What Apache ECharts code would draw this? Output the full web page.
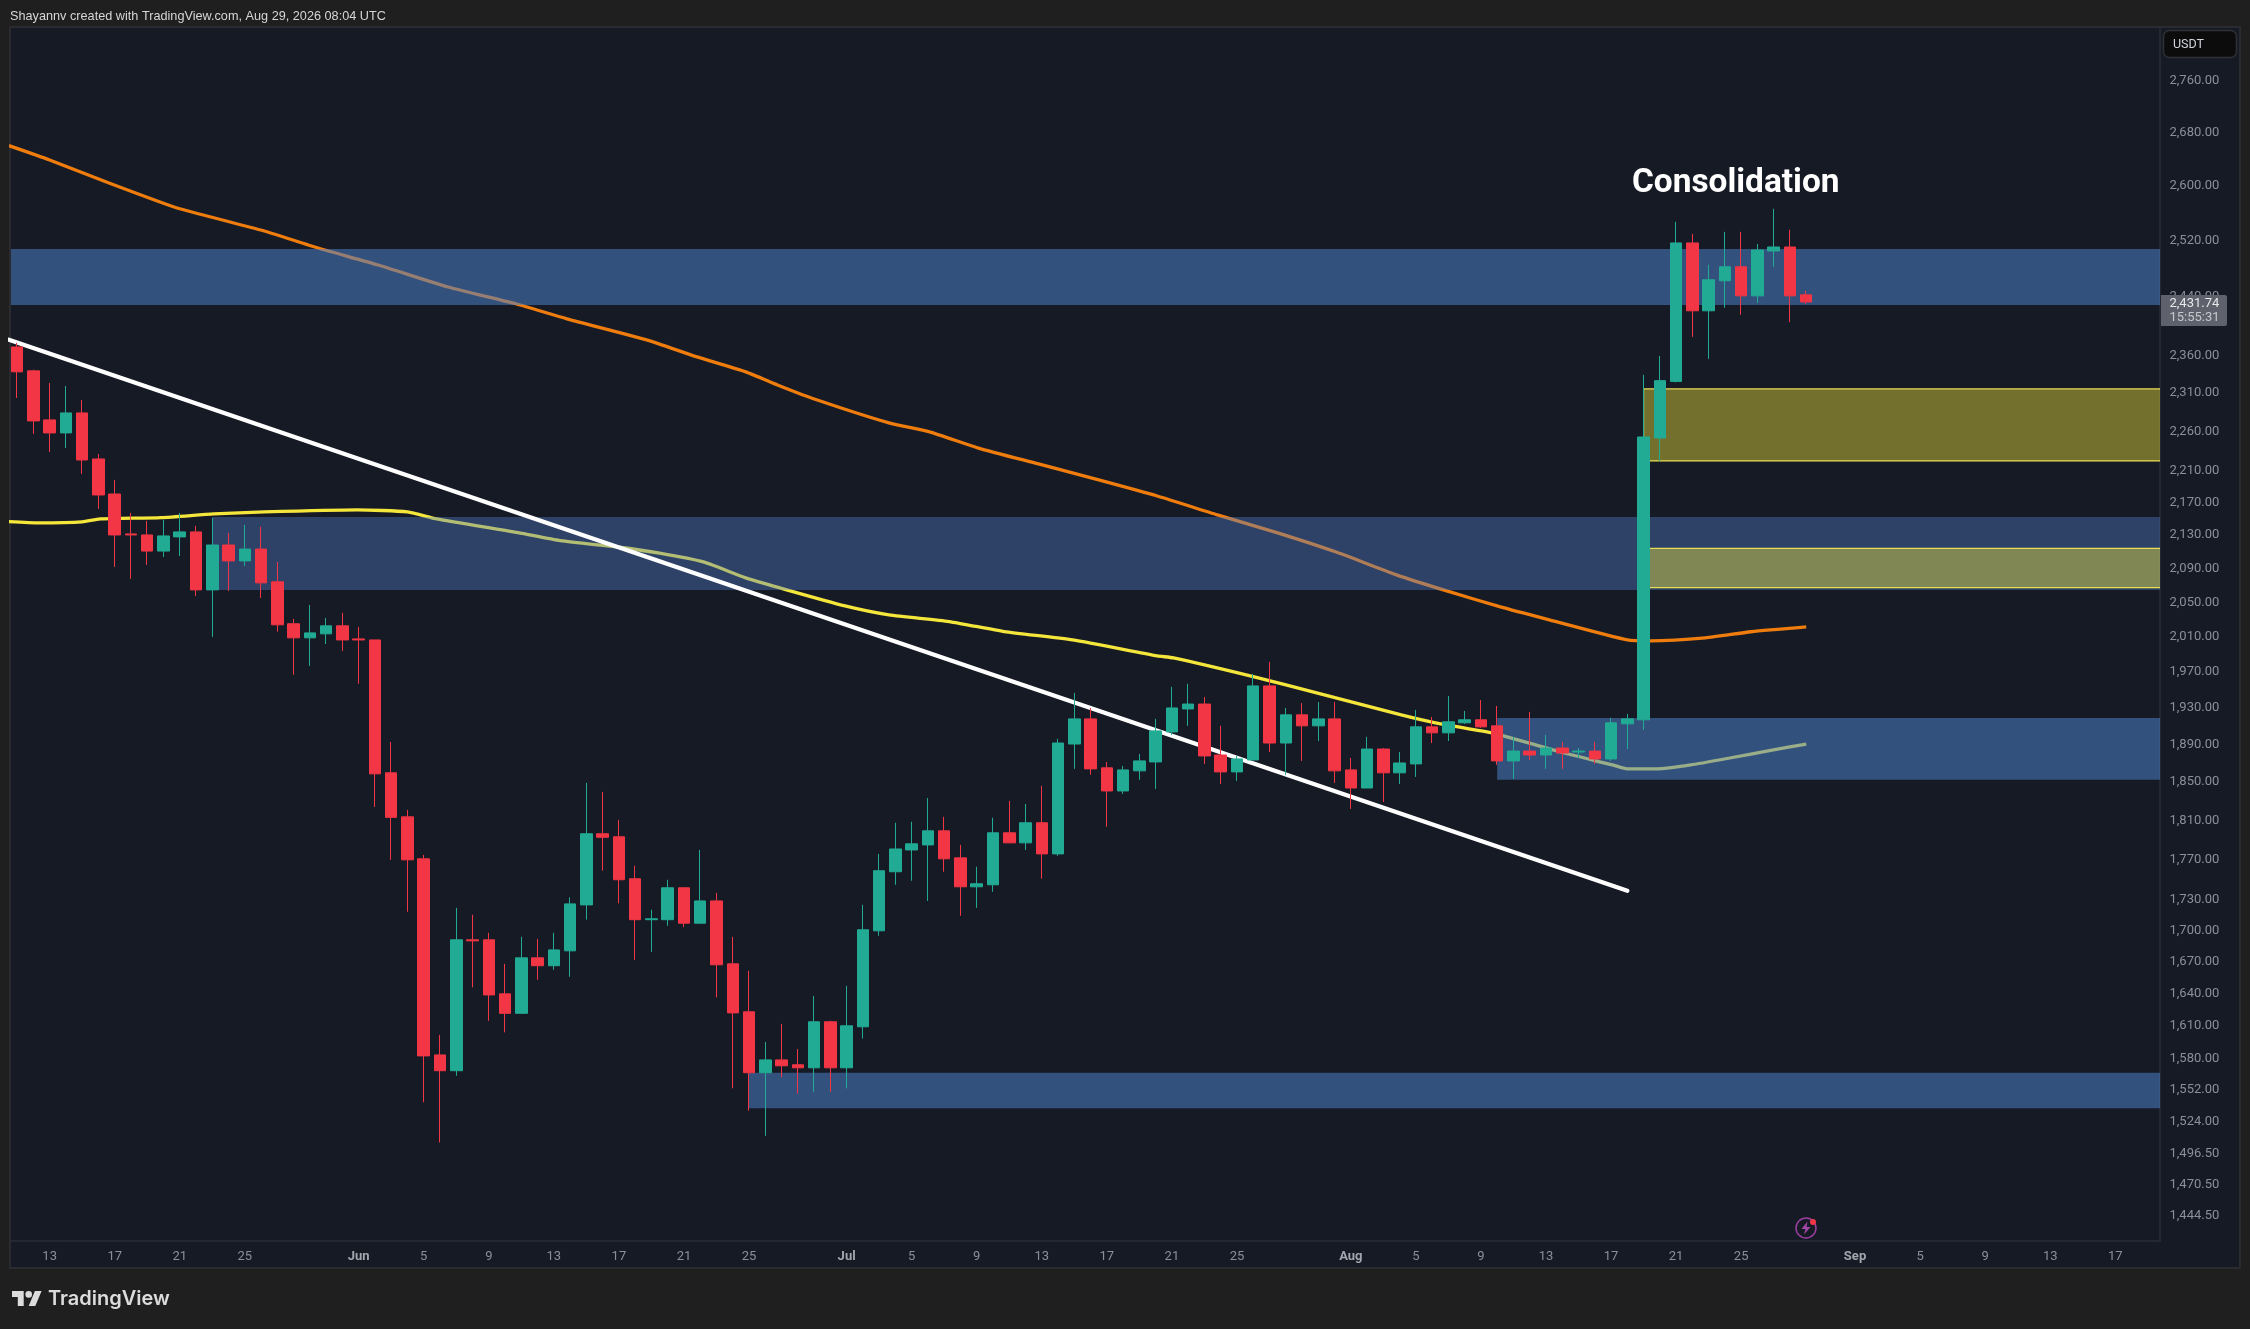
<!DOCTYPE html>
<html><head><meta charset="utf-8">
<style>html,body{margin:0;padding:0;background:#1f1f1f}#c{width:2250px;height:1329px}</style>
<script src="https://cdn.jsdelivr.net/npm/echarts@6/dist/echarts.min.js"></script>
</head><body><div id="c"></div>
<script>
// Day index 0 = May 11
const opens=[2370.1,2338,2273.5,2256.7,2282.6,2223.4,2179.4,2130.3,2129.1,2109.6,2126.7,2132.8,2063.4,2116.9,2097.8,2112,2072.9,2023.9,2007.7,2012.3,2021.5,2006.5,2005.3,1858.9,1812.8,1769.9,1582.6,1568.4,1690,1690,1638.7,1620.6,1672.7,1665.2,1679.4,1724,1795.4,1792.3,1749.9,1709.5,1709.5,1740.9,1706.1,1727.9,1667,1622,1566.6,1578.1,1573.7,1571,1612.8,1571,1608.2,1698.7,1756.9,1778.9,1784,1798.4,1770.9,1741.9,1743.9,1796.4,1786.1,1806.7,1774.9,1889.7,1917,1864.2,1839.8,1861,1870.5,1902.8,1927.9,1933.3,1877.9,1859.9,1872.6,1953.4,1890.8,1921.4,1909.4,1917,1862,1842.9,1884.3,1858.9,1868.4,1908.3,1901.8,1912.7,1916,1909.4,1871.6,1882.1,1877.9,1885.4,1881.1,1882.1,1873.7,1911.6,1916,2250.2,2324,2515,2419.5,2461.3,2481,2440.2,2503.5,2509.2,2441.6];
const closes=[2336.7,2272.2,2256.7,2282.6,2222.1,2178.2,2129.1,2129.1,2109.6,2127.9,2132.8,2063.4,2116.9,2097.8,2112,2071.7,2022.7,2007.7,2013.4,2021.5,2005.3,2005.3,1857.8,1812.3,1768.9,1581.7,1568.4,1690,1689,1637.7,1620.6,1672.7,1665.2,1680.3,1725,1795.4,1791.8,1748.9,1709.5,1710.4,1740.9,1706.1,1727.9,1666.1,1621,1566.6,1578.1,1572.8,1571,1612.8,1571,1609.1,1699.7,1757.9,1779.9,1785.1,1798.4,1769.9,1741.9,1744.9,1796.4,1786.1,1806.7,1774.9,1890.8,1917,1863.1,1839.8,1862,1871.6,1903.9,1929,1933.3,1876.9,1859.9,1873.7,1953.4,1890.8,1921.4,1909.4,1917,1861,1842.9,1884.3,1858.9,1869.4,1908.3,1901.8,1913.8,1916,1908.3,1871.6,1882.1,1877.9,1885.4,1880,1882.1,1873.7,1912.7,1917,2251.5,2325,2515,2419.5,2462.7,2481,2440.2,2504.9,2509.2,2440.2,2431.74];
const highs=[2375.6,2339.4,2322,2318,2299.4,2229.7,2197,2156,2146.2,2147.5,2156,2140.1,2149.9,2131.6,2141.4,2139,2096.6,2029.6,2045.7,2030.7,2036.5,2020.3,2005.3,1891.9,1820,1773.9,1600.8,1721.1,1714.3,1696.8,1667,1692.9,1690.9,1696.8,1731.4,1848.3,1838.8,1809.7,1762.9,1719.2,1748.9,1740.9,1778.9,1735.9,1692.9,1660.4,1594.4,1610.9,1587.9,1636.8,1613.7,1646.2,1724,1774.9,1806.7,1807.7,1832.4,1812.8,1784,1761.9,1811.8,1829.3,1826.2,1845.1,1895.2,1945.6,1929,1870.5,1866.3,1879,1917,1952.3,1955.8,1941.1,1909.4,1876.9,1966.9,1980.3,1929,1934.4,1935.5,1935.5,1874.7,1897.4,1885.4,1881.1,1926.8,1919.2,1942.2,1925.7,1937.7,1931.2,1897.4,1924.6,1899.6,1891.9,1885.4,1891.9,1918.1,1922.4,2332.7,2358,2545.5,2528,2483.8,2531,2531,2513.6,2564.4,2533.9,2447.3];
const lows=[2302.1,2255.4,2232.2,2237.3,2204.5,2160.9,2090.6,2076.4,2093,2102.5,2103.7,2056.2,2008.8,2062.2,2091.8,2053.9,2014.7,1965.8,1975.8,2000.7,1992.7,1955.8,1823.1,1768.9,1717.2,1540.4,1505.5,1563.9,1644.8,1613.7,1603.1,1620.6,1651.9,1661.4,1654.7,1709.5,1757.9,1725.5,1670.8,1678.4,1703.6,1702.2,1706.1,1635.4,1552.7,1533,1511.2,1562.6,1547.9,1549.7,1549.7,1552.7,1597.5,1693.9,1743.9,1747.9,1727.9,1756.9,1713.3,1721.1,1736.9,1786.1,1778.9,1749.9,1772.9,1863.1,1856.8,1802.5,1836.7,1851.5,1841.9,1899.6,1909.4,1868.4,1847.2,1850.4,1872.6,1881.1,1856.8,1871.6,1893,1848.2,1821,1842.9,1828.2,1847.2,1854.6,1890.8,1893,1911.6,1907.2,1867.3,1852.5,1872.6,1863.1,1863.1,1874.7,1868.4,1871.6,1884.3,1905,2220.9,2322.7,2383.8,2354,2423.6,2414,2430.5,2481,2404,2429.1];

const orangeDays=[-0.5,2,5.65,9.65,11.2,15.2,18.5,22.2,26.5,30.7,33.8,38.7,41.8,44.8,46.9,49.2,53.6,56.1,59.1,62.8,66.5,70.1,73.8,77.5,81.1,84.8,87.9,91.2,94.2,99,100.4,103.8,106.6,110];
const orangeVals=[2658.5,2636.9,2602.5,2567.1,2556.9,2532.2,2507.8,2483.6,2452.6,2428.9,2408.5,2379.7,2356.7,2336.7,2318,2299.4,2269.6,2258,2237.3,2217.1,2197,2176.9,2153.6,2131.6,2108.4,2081.2,2062.2,2043.4,2028.4,2005.3,2004.2,2007.7,2014.7,2020.3];
const yellowDays=[-0.5,1.35,4,5.1,8.85,12.1,15.2,20.9,24,25.8,30.8,33.4,36.9,39.5,42.2,44.8,46.9,50.9,53.6,57.3,60.7,64.9,70.1,71.1,76,79.9,85.1,87.2,90.6,91.6,94.9,98.1,99,100.8,102.9,105.3,107.9,110];
const yellowVals=[2145.4,2143.8,2145,2148.7,2150.3,2154.8,2157.2,2159.7,2157.2,2148.7,2132,2122.2,2114.5,2107.2,2096.6,2077.6,2065.7,2044.6,2034.2,2026.5,2014.9,2005.3,1987.1,1984.9,1963.8,1945.6,1921.4,1912.7,1902,1897.4,1881.1,1867.3,1863.1,1863.1,1867.3,1874.7,1883.2,1889.7];
const trendDays=[-0.5,99];
const trendVals=[2380,1737.9];

const blueStart=[-0.5,12,91,45];
const blueHigh=[2506.3,2151.1,1918.1,1566.6];
const blueLow=[2427.7,2063.4,1851.5,1535.1];
const blueDim=[false,true,false,false];
const goldStart=[100,100];
const goldHigh=[2314,2112.9];
const goldLow=[2220.9,2066];

const priceTicks=[2760,2680,2600,2520,2440,2360,2310,2260,2210,2170,2130,2090,2050,2010,1970,1930,1890,1850,1810,1770,1730,1700,1670,1640,1610,1580,1552,1524,1496.5,1470.5,1444.5];
const dateTickDays=[2,6,10,14,21,25,29,33,37,41,45,51,55,59,63,67,71,75,82,86,90,94,98,102,106,113,117,121,125,129];
const dateTickLabels=['13','17','21','25','Jun','5','9','13','17','21','25','Jul','5','9','13','17','21','25','Aug','5','9','13','17','21','25','Sep','5','9','13','17'];

const X_MIN=-0.375, X_MAX=131.75, Y_MIN=1423.2, Y_MAX=2843.1;
const FONT='Roboto';
const candles=opens.map((o,i)=>[i,o,closes[i],lows[i],highs[i]]);
const zip=(a,b)=>a.map((v,i)=>[v,b[i]]);

function rectItem(params,api,style,overrun){
  const a=api.coord([api.value(0),api.value(1)]);
  const b=api.coord([X_MAX+overrun,api.value(2)]);
  return {type:'rect',shape:{x:a[0],y:a[1],width:b[0]-a[0],height:b[1]-a[1]},style:style,
    clipPath:{type:'rect',shape:{x:params.coordSys.x,y:params.coordSys.y,width:params.coordSys.width,height:params.coordSys.height}}};
}
const chart=echarts.init(document.getElementById('c'),null,{renderer:'canvas'});
chart.setOption({
  animation:false,
  backgroundColor:'#1f1f1f',
  textStyle:{fontFamily:FONT},
  grid:{left:11,right:90,top:28,bottom:88,show:false},
  xAxis:{type:'value',min:X_MIN,max:X_MAX,splitLine:{show:false},
    axisLine:{show:true,lineStyle:{color:'#2a2e39',width:1.5}},axisTick:{show:false},
    axisLabel:{customValues:dateTickDays,margin:9,fontSize:13,color:'#8b8f98',fontFamily:FONT,
      formatter:v=>{const s=dateTickLabels[dateTickDays.indexOf(v)];return /[A-Z]/.test(s)?'{m|'+s+'}':s;},
      rich:{m:{fontSize:13,fontWeight:'bold',color:'#a3a6ad',fontFamily:FONT}}}},
  yAxis:{type:'log',logBase:10,position:'right',min:Y_MIN,max:Y_MAX,splitLine:{show:false},
    axisLine:{show:true,onZero:false,lineStyle:{color:'#2a2e39',width:1.5}},axisTick:{show:false},
    axisLabel:{show:false}},
  graphic:[
    {type:'rect',z:-10,silent:true,shape:{x:10,y:27,width:2230,height:1241},style:{fill:'#161a25',stroke:'#2a2b30',lineWidth:2}},
    {type:'text',z:50,style:{x:10,y:16,text:'Shayannv created with TradingView.com, Aug 29, 2026 08:04 UTC',fill:'#d6d6d6',font:'12.7px "Liberation Sans"',textVerticalAlign:'middle'}},
    {type:'rect',z:50,shape:{x:2163.5,y:30.5,width:73,height:27,r:6},style:{fill:'#0c0c0d',stroke:'#2e3036',lineWidth:1.5}},
    {type:'text',z:51,style:{x:2173,y:45,text:'USDT',fill:'#d1d4dc',font:'12.5px Roboto',textVerticalAlign:'middle'}},
    {type:'rect',z:60,shape:{x:2161,y:295,width:66,height:31,r:[0,2,2,0]},style:{fill:'#5f626d'}},
    {type:'text',z:61,style:{x:2169.5,y:304,text:'2,431.74',fill:'#e8e8ea',font:'13px Roboto',textVerticalAlign:'middle'}},
    {type:'text',z:61,style:{x:2169.5,y:317.5,text:'15:55:31',fill:'#c7c8cc',font:'13px Roboto',textVerticalAlign:'middle'}},
    {type:'text',z:61,style:{x:1632,y:184,text:'Consolidation',fill:'#ffffff',font:'bold 33.4px Roboto',textVerticalAlign:'middle'}},
    {type:'circle',z:61,shape:{cx:1806,cy:1228,r:10},style:{fill:'none',stroke:'#9a3f9f',lineWidth:1.5}},
    {type:'polygon',z:61,shape:{points:[[1807.5,1221.5],[1801.5,1229],[1805.5,1229],[1804,1234.5],[1810.5,1227],[1806.5,1227]]},style:{fill:'#a347a8'}},
    {type:'circle',z:62,shape:{cx:1813,cy:1222,r:3},style:{fill:'#f23645'}},
    {type:'polygon',z:61,shape:{points:[[23.7,1306],[17.8,1306],[17.8,1296.9],[12,1296.9],[12,1291],[23.7,1291]]},style:{fill:'#dcdcdc'}},
    {type:'polygon',z:61,shape:{points:[[35.3,1306],[28.7,1306],[34.9,1291],[41.6,1291]]},style:{fill:'#dcdcdc'}},
    {type:'circle',z:61,shape:{cx:28.7,cy:1294.4,r:3.3},style:{fill:'#dcdcdc'}},
    {type:'text',z:61,style:{x:48,y:1299,text:'TradingView',fill:'#dcdcdc',font:'600 20px Inter',textVerticalAlign:'middle'}}
  ],
  series:[
    {type:'line',name:'MA long',z:2,data:zip(orangeDays,orangeVals),showSymbol:false,smooth:0.2,lineStyle:{color:'#ef7d0e',width:3.3},silent:true},
    {type:'line',name:'MA short',z:2,data:zip(yellowDays,yellowVals),showSymbol:false,smooth:0.2,lineStyle:{color:'#f5e63c',width:3.3},silent:true},
    {type:'custom',name:'Supply and demand zones',z:3,silent:true,encode:{x:0,y:[1,2]},
      data:blueStart.map((s,i)=>[s,blueHigh[i],blueLow[i],blueDim[i]?1:0]),
      renderItem:(p,api)=>rectItem(p,api,{fill:api.value(3)?'rgba(80,128,199,0.40)':'rgba(76,128,199,0.55)'},0)},
    {type:'custom',name:'Fair value gaps',z:3,silent:true,encode:{x:0,y:[1,2]},
      data:goldStart.map((s,i)=>[s,goldHigh[i],goldLow[i]]),
      renderItem:(p,api)=>rectItem(p,api,{fill:'rgba(245,230,60,0.42)',stroke:'#e8dd55',lineWidth:1.2},1)},
    {type:'line',name:'Trendline',z:4,data:zip(trendDays,trendVals),showSymbol:false,lineStyle:{color:'#ffffff',width:4.2,cap:'round'},silent:true},
    {type:'candlestick',name:'ETHUSDT',z:5,silent:true,encode:{x:0,y:[1,2,3,4]},data:candles,barWidth:12,
      itemStyle:{color:'#22ab94',color0:'#f23645',borderColor:'#22ab94',borderColor0:'#f23645',borderWidth:1}},
    {type:'custom',name:'Price scale',z:6,silent:true,clip:false,encode:{y:0},data:priceTicks.map(v=>[v]),
      renderItem:(p,api)=>{const c=api.coord([X_MAX,api.value(0)]);
        return {type:'text',x:c[0]+9.5,y:c[1]+1,style:{text:api.value(0).toLocaleString('en-US',{minimumFractionDigits:2,maximumFractionDigits:2}),fill:'#8b8f98',font:'13px Roboto',verticalAlign:'middle',align:'left'}};}}
  ]
});
</script></body></html>
